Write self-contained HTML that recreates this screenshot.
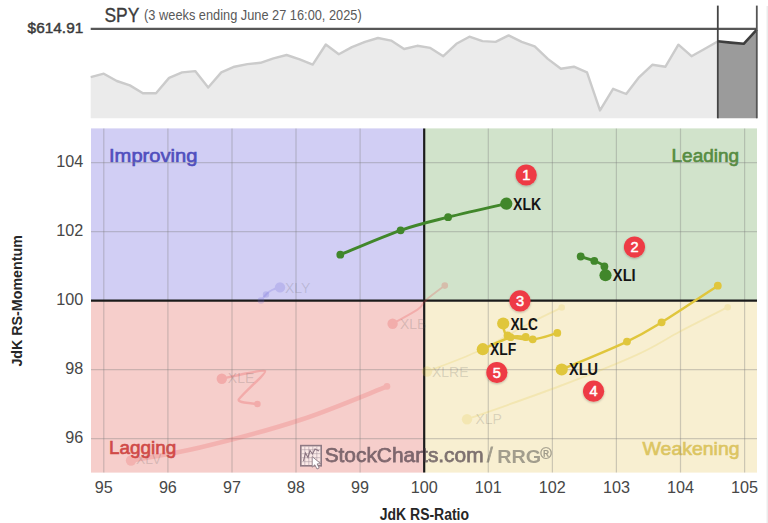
<!DOCTYPE html>
<html><head><meta charset="utf-8"><title>RRG</title>
<style>
html,body{margin:0;padding:0;background:#fff;}
body{width:768px;height:523px;overflow:hidden;}
svg{display:block;font-family:"Liberation Sans",Arial,sans-serif;}
</style></head><body>
<svg width="768" height="523" viewBox="0 0 768 523">
<defs><filter id="sh" x="-30%" y="-30%" width="160%" height="170%"><feDropShadow dx="0" dy="1" stdDeviation="0.8" flood-color="#000" flood-opacity="0.25"/></filter></defs>
<polygon points="90.7,118.3 90.7,77.1 103.8,73.7 116.8,81.0 129.9,85.4 142.9,93.2 156.0,93.2 169.1,77.9 182.1,72.4 195.2,71.1 208.2,87.5 221.3,72.4 234.4,66.7 247.4,64.1 260.5,62.8 273.5,58.3 286.6,55.0 299.7,59.4 312.7,64.6 325.8,44.5 338.8,54.2 351.9,47.1 365.0,41.9 378.0,38.0 391.1,40.6 404.1,49.0 417.2,45.8 430.3,47.9 443.3,56.2 456.4,43.8 469.4,36.7 482.5,41.1 495.6,41.9 508.6,35.4 521.7,41.9 534.7,46.4 547.8,58.9 560.9,68.8 573.9,66.7 587.0,72.4 600.0,110.4 613.1,88.8 626.2,94.0 639.2,77.1 652.3,64.8 665.3,66.8 678.4,44.7 691.5,56.2 704.5,49.0 717.6,41.5 717.8,118.3" fill="#ebebeb"/>
<polyline points="90.7,77.1 103.8,73.7 116.8,81.0 129.9,85.4 142.9,93.2 156.0,93.2 169.1,77.9 182.1,72.4 195.2,71.1 208.2,87.5 221.3,72.4 234.4,66.7 247.4,64.1 260.5,62.8 273.5,58.3 286.6,55.0 299.7,59.4 312.7,64.6 325.8,44.5 338.8,54.2 351.9,47.1 365.0,41.9 378.0,38.0 391.1,40.6 404.1,49.0 417.2,45.8 430.3,47.9 443.3,56.2 456.4,43.8 469.4,36.7 482.5,41.1 495.6,41.9 508.6,35.4 521.7,41.9 534.7,46.4 547.8,58.9 560.9,68.8 573.9,66.7 587.0,72.4 600.0,110.4 613.1,88.8 626.2,94.0 639.2,77.1 652.3,64.8 665.3,66.8 678.4,44.7 691.5,56.2 704.5,49.0 717.6,41.5" fill="none" stroke="#cbcbcb" stroke-width="2.4" stroke-linejoin="round"/>
<polygon points="717.8,118.3 717.8,41.3 730.6,42.6 743.7,43.8 756.8,29.7 756.8,118.3" fill="#9b9b9b"/>
<line x1="90.7" y1="28.8" x2="757" y2="28.8" stroke="#575757" stroke-width="2.2"/>
<polyline points="717.8,41.3 730.6,42.6 743.7,43.8 756.8,29.7" fill="none" stroke="#3e3e3e" stroke-width="2.6" stroke-linejoin="round"/>
<line x1="717.8" y1="5.6" x2="717.8" y2="118.3" stroke="#444" stroke-width="1.8"/>
<line x1="756.8" y1="5.6" x2="756.8" y2="118.3" stroke="#555" stroke-width="1.8"/>
<line x1="767.2" y1="6" x2="767.2" y2="523" stroke="#e3e3e3" stroke-width="1"/>
<text x="27.63" y="32.60" font-size="14.9" fill="#3a3a3a" textLength="55.62" lengthAdjust="spacingAndGlyphs" stroke="#3a3a3a" stroke-width="0.45">$614.91</text>
<text x="104.51" y="22.20" font-size="19.8" fill="#3c3c3c" textLength="34.87" lengthAdjust="spacingAndGlyphs" stroke="#3c3c3c" stroke-width="0.35">SPY</text>
<text x="144.11" y="20.40" font-size="14.5" fill="#595959" textLength="217.59" lengthAdjust="spacingAndGlyphs">(3 weeks ending June 27 16:00, 2025)</text>
<rect x="91.0" y="128.4" width="333.2" height="172.2" fill="#d1cef4"/>
<rect x="424.2" y="128.4" width="332.8" height="172.2" fill="#d1e3cb"/>
<rect x="91.0" y="300.6" width="333.2" height="172.0" fill="#f6cecb"/>
<rect x="424.2" y="300.6" width="332.8" height="172.0" fill="#f8efd1"/>
<text x="109.04" y="161.50" font-size="18.9" fill="#504ebe" textLength="88.35" lengthAdjust="spacingAndGlyphs" stroke-width="0.65" stroke="#504ebe">Improving</text>
<text x="671.54" y="161.70" font-size="18.9" fill="#568c42" textLength="67.58" lengthAdjust="spacingAndGlyphs" stroke-width="0.65" stroke="#568c42">Leading</text>
<text x="108.95" y="454.00" font-size="18.9" fill="#d04a47" textLength="67.27" lengthAdjust="spacingAndGlyphs" stroke-width="0.65" stroke="#d04a47">Lagging</text>
<text x="642.61" y="454.50" font-size="18.9" fill="#dcc562" textLength="96.93" lengthAdjust="spacingAndGlyphs" stroke-width="0.65" stroke="#dcc562">Weakening</text>
<g stroke="#7a7a7a" stroke-opacity="0.35" stroke-width="1.2"><line x1="103.8" y1="128.4" x2="103.8" y2="472.6"/><line x1="167.9" y1="128.4" x2="167.9" y2="472.6"/><line x1="232.0" y1="128.4" x2="232.0" y2="472.6"/><line x1="296.0" y1="128.4" x2="296.0" y2="472.6"/><line x1="360.1" y1="128.4" x2="360.1" y2="472.6"/><line x1="488.3" y1="128.4" x2="488.3" y2="472.6"/><line x1="552.4" y1="128.4" x2="552.4" y2="472.6"/><line x1="616.4" y1="128.4" x2="616.4" y2="472.6"/><line x1="680.5" y1="128.4" x2="680.5" y2="472.6"/><line x1="744.6" y1="128.4" x2="744.6" y2="472.6"/><line x1="91.0" y1="438.6" x2="757.0" y2="438.6"/><line x1="91.0" y1="369.6" x2="757.0" y2="369.6"/><line x1="91.0" y1="231.6" x2="757.0" y2="231.6"/><line x1="91.0" y1="162.6" x2="757.0" y2="162.6"/></g>
<line x1="424.2" y1="128.4" x2="424.2" y2="472.6" stroke="#1b1b1b" stroke-width="2.2"/>
<line x1="91.0" y1="300.6" x2="757.0" y2="300.6" stroke="#1b1b1b" stroke-width="2.2"/>
<g><rect x="300.8" y="445.6" width="20.4" height="20.2" fill="#ffffff" fill-opacity="0.55" stroke="#8e7a84" stroke-width="1.6"/><path d="M304.8,446.5v19M308.8,446.5v19M312.8,446.5v19M316.8,446.5v19M301.5,449.7h19M301.5,453.7h19M301.5,457.7h19M301.5,461.7h19" stroke="#a08c96" stroke-opacity="0.7" stroke-width="0.7"/><path d="M303.5,461 L305.5,453 L308,457.5 L310,450.5 L312.5,454 L315,449 L319,451" fill="none" stroke="#8a7480" stroke-width="1.1"/><path d="M312.2,456.6 L312.2,467.2 L314.8,464.8 L317,469 L319.2,468 L317.1,463.9 L320.8,463.7 Z" fill="#fff" stroke="#8e7a84" stroke-width="0.9"/></g>
<g opacity="0.66"><text x="324.65" y="461.90" font-size="20.5" fill="#40323e" textLength="158.92" lengthAdjust="spacingAndGlyphs" stroke="#40323e" stroke-width="0.75">StockCharts.com</text></g>
<g opacity="0.45"><text x="486.90" y="462.00" font-size="20" fill="#3b3b3b" textLength="5.70" lengthAdjust="spacingAndGlyphs" stroke="#3b3b3b" stroke-width="0.8">/</text><text x="497.28" y="462.90" font-size="18.7" font-weight="bold" fill="#3b3b3b" textLength="43.95" lengthAdjust="spacingAndGlyphs">RRG</text><text x="540.36" y="458.60" font-size="16" fill="#3b3b3b" textLength="11.58" lengthAdjust="spacingAndGlyphs" stroke="#3b3b3b" stroke-width="0.4">®</text></g>
<circle cx="266" cy="294.5" r="3.2" fill="#6a66d8" opacity="0.22"/>
<g opacity="0.22"><path d="M261.0,300.5 C261.9,299.4 264.7,295.8 266.5,294.0 C268.3,292.2 269.8,291.1 272.0,290.0 C274.2,288.9 278.7,287.8 280.0,287.4" fill="none" stroke="#6a66d8" stroke-width="1.9" stroke-linecap="round" stroke-linejoin="round"/><circle cx="261.0" cy="300.5" r="3.3" fill="#6a66d8"/><circle cx="280.0" cy="287.4" r="5.2" fill="#6a66d8"/></g>
<g opacity="0.24"><path d="M444.8,285.6 C441.6,288.0 430.4,296.2 425.9,300.2 C421.4,304.2 423.4,305.5 417.8,309.4 C412.2,313.3 396.8,321.3 392.6,323.7" fill="none" stroke="#e8474a" stroke-width="1.9" stroke-linecap="round" stroke-linejoin="round"/><circle cx="444.8" cy="285.6" r="3.3" fill="#e8474a"/><circle cx="392.6" cy="323.7" r="5.2" fill="#e8474a"/></g>
<g opacity="0.25"><path d="M257.4,404.0 C255.5,403.6 237.9,403.1 238.7,399.8 C239.5,396.5 266.7,373.2 265.0,371.1 C263.3,369.0 226.1,377.9 221.8,378.7" fill="none" stroke="#e8474a" stroke-width="2.5" stroke-linecap="round" stroke-linejoin="round"/><circle cx="257.4" cy="404.0" r="3.3" fill="#e8474a"/><circle cx="221.8" cy="378.7" r="5.2" fill="#e8474a"/></g>
<g opacity="0.20"><path d="M387.0,386.4 C372.5,392.0 331.2,409.8 300.0,420.0 C268.8,430.2 228.2,440.8 200.0,447.5 C171.8,454.2 142.5,458.3 131.0,460.5" fill="none" stroke="#e8474a" stroke-width="4.6" stroke-linecap="round" stroke-linejoin="round"/><circle cx="387.0" cy="386.4" r="3.3" fill="#e8474a"/><circle cx="131.0" cy="460.5" r="5.2" fill="#e8474a"/></g>
<g opacity="0.20"><path d="M561.7,307.5 C556.4,310.1 544.0,315.7 530.0,323.0 C516.0,330.3 494.6,343.4 477.4,351.5 C460.2,359.6 435.4,368.2 427.0,371.5" fill="none" stroke="#e0c63c" stroke-width="1.9" stroke-linecap="round" stroke-linejoin="round"/><circle cx="561.7" cy="307.5" r="3.3" fill="#e0c63c"/><circle cx="427.0" cy="371.5" r="5.2" fill="#e0c63c"/></g>
<g opacity="0.20"><path d="M727.7,307.2 C719.8,311.2 695.1,323.6 680.0,331.5 C664.9,339.4 657.3,345.5 637.3,354.6 C617.3,363.7 588.4,375.2 560.0,386.0 C531.6,396.8 482.5,413.8 467.0,419.3" fill="none" stroke="#e0c63c" stroke-width="1.9" stroke-linecap="round" stroke-linejoin="round"/><circle cx="727.7" cy="307.2" r="3.3" fill="#e0c63c"/><circle cx="467.0" cy="419.3" r="5.2" fill="#e0c63c"/></g>
<text x="285.0" y="292.8" font-size="14" fill="#555" fill-opacity="0.2">XLY</text>
<text x="400.0" y="328.8" font-size="14" fill="#555" fill-opacity="0.2">XLB</text>
<text x="227.8" y="383.4" font-size="14" fill="#555" fill-opacity="0.2">XLE</text>
<text x="136.0" y="463.5" font-size="14" fill="#555" fill-opacity="0.2">XLV</text>
<text x="432.0" y="377.3" font-size="14" fill="#555" fill-opacity="0.2">XLRE</text>
<text x="475.4" y="424.2" font-size="14" fill="#555" fill-opacity="0.2">XLP</text>
<g opacity="1.00"><path d="M340.3,254.7 C350.4,250.6 382.6,236.6 400.6,230.3 C418.6,224.1 430.5,221.6 448.1,217.2 C465.7,212.8 496.6,205.9 506.3,203.7" fill="none" stroke="#41872b" stroke-width="2.9" stroke-linecap="round"/><circle cx="340.3" cy="254.7" r="3.9" fill="#41872b"/><circle cx="400.6" cy="230.3" r="3.9" fill="#41872b"/><circle cx="448.1" cy="217.2" r="3.9" fill="#41872b"/><circle cx="506.3" cy="203.7" r="6.1" fill="#41872b"/></g>
<g opacity="1.00"><path d="M580.7,256.5 C583.0,257.2 590.3,259.2 594.3,260.9 C598.2,262.5 602.5,264.0 604.4,266.4 C606.3,268.8 605.3,273.7 605.5,275.2" fill="none" stroke="#41872b" stroke-width="2.9" stroke-linecap="round"/><circle cx="580.7" cy="256.5" r="3.9" fill="#41872b"/><circle cx="594.3" cy="260.9" r="3.9" fill="#41872b"/><circle cx="604.4" cy="266.4" r="3.9" fill="#41872b"/><circle cx="605.5" cy="275.2" r="6.1" fill="#41872b"/></g>
<g opacity="1.00"><path d="M717.8,285.7 C708.4,291.8 676.7,313.0 661.6,322.3 C646.5,331.6 643.6,333.7 627.0,341.6 C610.4,349.5 572.6,364.9 561.7,369.5" fill="none" stroke="#e0c63c" stroke-width="2.5" stroke-linecap="round"/><circle cx="717.8" cy="285.7" r="3.9" fill="#e0c63c"/><circle cx="661.6" cy="322.3" r="3.9" fill="#e0c63c"/><circle cx="627.0" cy="341.6" r="3.9" fill="#e0c63c"/><circle cx="561.7" cy="369.5" r="6.1" fill="#e0c63c"/></g>
<g opacity="1.00"><path d="M557.3,332.9 C553.2,334.0 541.0,338.9 532.7,339.3 C524.4,339.7 512.4,338.1 507.5,335.5 C502.6,332.9 503.9,325.5 503.2,323.5" fill="none" stroke="#e0c63c" stroke-width="2.5" stroke-linecap="round"/><circle cx="557.3" cy="332.9" r="3.9" fill="#e0c63c"/><circle cx="532.7" cy="339.3" r="3.9" fill="#e0c63c"/><circle cx="507.5" cy="335.5" r="3.9" fill="#e0c63c"/><circle cx="503.2" cy="323.5" r="6.1" fill="#e0c63c"/></g>
<g opacity="1.00"><path d="M525.7,337.0 C523.2,337.0 517.6,335.2 510.5,337.2 C503.4,339.2 487.4,347.2 482.8,349.2" fill="none" stroke="#e0c63c" stroke-width="2.5" stroke-linecap="round"/><circle cx="525.7" cy="337.0" r="3.9" fill="#e0c63c"/><circle cx="510.5" cy="337.2" r="3.9" fill="#e0c63c"/><circle cx="482.8" cy="349.2" r="6.1" fill="#e0c63c"/></g>
<text x="513.08" y="209.70" font-size="16" font-weight="bold" fill="#151515" textLength="28.15" lengthAdjust="spacingAndGlyphs">XLK</text>
<text x="612.87" y="280.70" font-size="16" font-weight="bold" fill="#151515" textLength="22.81" lengthAdjust="spacingAndGlyphs">XLI</text>
<text x="569.07" y="374.90" font-size="16" font-weight="bold" fill="#151515" textLength="29.01" lengthAdjust="spacingAndGlyphs">XLU</text>
<text x="510.38" y="329.50" font-size="16" font-weight="bold" fill="#151515" textLength="27.39" lengthAdjust="spacingAndGlyphs">XLC</text>
<text x="490.08" y="355.10" font-size="16" font-weight="bold" fill="#151515" textLength="26.23" lengthAdjust="spacingAndGlyphs">XLF</text>
<circle cx="526.2" cy="175.0" r="10.6" fill="#ee3b44" filter="url(#sh)"/>
<text x="526.2" y="180.0" font-size="14.6" fill="#fff" stroke="#fff" stroke-width="0.5" text-anchor="middle">1</text>
<circle cx="634.5" cy="247.1" r="10.6" fill="#ee3b44" filter="url(#sh)"/>
<text x="634.5" y="252.1" font-size="14.6" fill="#fff" stroke="#fff" stroke-width="0.5" text-anchor="middle">2</text>
<circle cx="520.0" cy="300.9" r="10.6" fill="#ee3b44" filter="url(#sh)"/>
<text x="520.0" y="305.9" font-size="14.6" fill="#fff" stroke="#fff" stroke-width="0.5" text-anchor="middle">3</text>
<circle cx="593.6" cy="391.2" r="10.6" fill="#ee3b44" filter="url(#sh)"/>
<text x="593.6" y="396.2" font-size="14.6" fill="#fff" stroke="#fff" stroke-width="0.5" text-anchor="middle">4</text>
<circle cx="496.9" cy="372.5" r="10.6" fill="#ee3b44" filter="url(#sh)"/>
<text x="496.9" y="377.5" font-size="14.6" fill="#fff" stroke="#fff" stroke-width="0.5" text-anchor="middle">5</text>
<text x="83.37" y="166.90" font-size="16.3" fill="#474747" text-anchor="end" textLength="27.01" lengthAdjust="spacingAndGlyphs">104</text>
<text x="83.37" y="235.90" font-size="16.3" fill="#474747" text-anchor="end" textLength="27.01" lengthAdjust="spacingAndGlyphs">102</text>
<text x="83.37" y="304.90" font-size="16.3" fill="#474747" text-anchor="end" textLength="27.01" lengthAdjust="spacingAndGlyphs">100</text>
<text x="83.37" y="373.90" font-size="16.3" fill="#474747" text-anchor="end" textLength="18.00" lengthAdjust="spacingAndGlyphs">98</text>
<text x="83.37" y="442.90" font-size="16.3" fill="#474747" text-anchor="end" textLength="18.00" lengthAdjust="spacingAndGlyphs">96</text>
<text x="103.80" y="492.6" font-size="16.2" fill="#474747" text-anchor="middle" textLength="18.00" lengthAdjust="spacingAndGlyphs">95</text>
<text x="167.88" y="492.6" font-size="16.2" fill="#474747" text-anchor="middle" textLength="18.00" lengthAdjust="spacingAndGlyphs">96</text>
<text x="231.96" y="492.6" font-size="16.2" fill="#474747" text-anchor="middle" textLength="18.00" lengthAdjust="spacingAndGlyphs">97</text>
<text x="296.04" y="492.6" font-size="16.2" fill="#474747" text-anchor="middle" textLength="18.00" lengthAdjust="spacingAndGlyphs">98</text>
<text x="360.12" y="492.6" font-size="16.2" fill="#474747" text-anchor="middle" textLength="18.00" lengthAdjust="spacingAndGlyphs">99</text>
<text x="424.20" y="492.6" font-size="16.2" fill="#474747" text-anchor="middle" textLength="27.01" lengthAdjust="spacingAndGlyphs">100</text>
<text x="488.28" y="492.6" font-size="16.2" fill="#474747" text-anchor="middle" textLength="27.01" lengthAdjust="spacingAndGlyphs">101</text>
<text x="552.36" y="492.6" font-size="16.2" fill="#474747" text-anchor="middle" textLength="27.01" lengthAdjust="spacingAndGlyphs">102</text>
<text x="616.44" y="492.6" font-size="16.2" fill="#474747" text-anchor="middle" textLength="27.01" lengthAdjust="spacingAndGlyphs">103</text>
<text x="680.52" y="492.6" font-size="16.2" fill="#474747" text-anchor="middle" textLength="27.01" lengthAdjust="spacingAndGlyphs">104</text>
<text x="744.60" y="492.6" font-size="16.2" fill="#474747" text-anchor="middle" textLength="27.01" lengthAdjust="spacingAndGlyphs">105</text>
<text x="379.79" y="519.50" font-size="16" font-weight="bold" fill="#262626" textLength="89.26" lengthAdjust="spacingAndGlyphs">JdK RS-Ratio</text>
<text transform="translate(21.8,366.6) rotate(-90)" font-size="15" font-weight="bold" fill="#262626" textLength="131.5" lengthAdjust="spacingAndGlyphs">JdK RS-Momentum</text>
</svg>
</body></html>
